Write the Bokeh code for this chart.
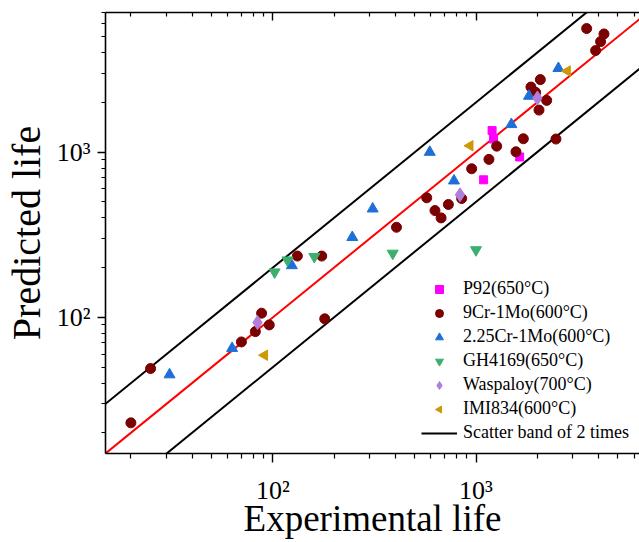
import numpy as np
from bokeh.plotting import figure
from bokeh.models import LogAxis, FixedTicker, Legend, LegendItem, ColumnDataSource
from bokeh.core.properties import value
from bokeh.embed import file_html
from bokeh.resources import INLINE

# axis limits
x_lo, x_hi = 15, 6380
y_lo, y_hi = 15, 7000

# data (experimental life, predicted life)
p92_x = [1200, 1220, 1090, 1640]
p92_y = [1350, 1200, 680, 935]

cr9_x = [20, 25, 70, 82, 88, 96, 132, 174, 180, 406, 572, 628, 673, 731, 850,
         952, 1158, 1264, 1573, 1710, 2475, 1864, 1966, 2073, 2228, 2042,
         3505, 4266, 4105, 3880]
cr9_y = [23, 49, 71, 82, 106, 90, 235, 235, 98, 351, 529, 443, 400, 482, 524,
         793, 904, 1087, 1005, 1205, 1200, 2477, 2300, 2747, 2057, 1797,
         5596, 5190, 4665, 4117]

cr225_x = [31, 63, 124, 246, 310, 592, 779, 1493, 1823, 2544]
cr225_y = [45, 65, 206, 305, 454, 1000, 671, 1472, 2184, 3215]

gh_x = [102, 118, 160, 389, 1000]
gh_y = [188, 222, 233, 244, 256]

wasp_x = [84, 834, 2005]
wasp_y = [93, 552, 2125]

imi_x = [91, 934, 2815]
imi_y = [59, 1093, 3097]

major_ticks = [100, 1000]
minor_ticks = [20, 30, 40, 50, 60, 70, 80, 90,
               200, 300, 400, 500, 600, 700, 800, 900,
               2000, 3000, 4000, 5000, 6000, 7000, 8000, 9000]
tick_labels = {100: "10²", 1000: "10³"}

FONT = "Liberation Serif"

p = figure(x_axis_type="log", y_axis_type="log",
           x_range=(x_lo, x_hi), y_range=(y_lo, y_hi),
           frame_width=534, frame_height=441,
           min_border_left=96, min_border_right=0, min_border_top=12,
           min_border_bottom=0,
           output_backend="svg", toolbar_location=None)
p.outline_line_color = None
p.grid.visible = False
p.background_fill_color = "white"

def style_axis(ax, label_size="26px"):
    ax.ticker = FixedTicker(ticks=major_ticks, minor_ticks=minor_ticks)
    ax.major_label_overrides = tick_labels
    ax.axis_line_color = "black"
    ax.axis_line_width = 1.6
    ax.major_tick_line_color = "black"
    ax.major_tick_line_width = 1.4
    ax.minor_tick_line_color = "black"
    ax.minor_tick_line_width = 1.2
    ax.major_label_text_font = FONT
    ax.major_label_text_font_size = label_size
    ax.major_label_text_color = "black"

xa = p.xaxis[0]
style_axis(xa)
xa.major_tick_out = 9
xa.major_tick_in = 0
xa.minor_tick_out = 5
xa.minor_tick_in = 0
xa.major_label_standoff = 13
xa.axis_label = "Experimental life"
xa.axis_label_text_font = FONT
xa.axis_label_text_font_size = "37px"
xa.axis_label_text_font_style = "normal"
xa.axis_label_text_color = "black"
xa.axis_label_standoff = -10

ya = p.yaxis[0]
style_axis(ya)
ya.major_tick_out = 8
ya.major_tick_in = 0
ya.minor_tick_out = 4
ya.minor_tick_in = 0
ya.major_label_standoff = 7
ya.axis_label = "Predicted life"
ya.axis_label_text_font = FONT
ya.axis_label_text_font_size = "40px"
ya.axis_label_text_font_style = "normal"
ya.axis_label_text_color = "black"
ya.axis_label_standoff = 5

top = LogAxis()
style_axis(top)
top.major_tick_out = 0
top.major_tick_in = 8
top.minor_tick_out = 0
top.minor_tick_in = 4
top.major_label_text_font_size = "0px"
top.major_label_standoff = 0
top.major_label_overrides = {100: "", 1000: ""}
p.add_layout(top, "above")

# lines
lx = np.array([x_lo, x_hi], dtype=float)
r_red = p.line(lx, lx, line_color="red", line_width=2)
r_up = p.line(lx, 2 * lx, line_color="black", line_width=2)
r_dn = p.line(lx, lx / 2, line_color="black", line_width=2)

r_p92 = p.scatter(p92_x, p92_y, marker="square", size=8, color="#FF00FF")
r_cr9 = p.scatter(cr9_x, cr9_y, marker="circle", size=10, color="#7B0000")
r_225 = p.scatter(cr225_x, cr225_y, marker="triangle", size=11, color="#1F6FD8")
r_gh = p.scatter(gh_x, gh_y, marker="inverted_triangle", size=11, color="#3CAE6E")
r_wa = p.scatter(wasp_x, wasp_y, marker="diamond", size=14, color="#B07EDC")

imi_src = ColumnDataSource(dict(x=imi_x, y=imi_y))
r_imi = None
if hasattr(p, "ngon"):
    try:
        r_imi = p.ngon(x="x", y="y", source=imi_src, radius=6, radius_units="screen",
                       n=3, angle=np.pi / 2, fill_color="#CC9A06", line_color="#CC9A06")
    except Exception:
        r_imi = None
if r_imi is None:
    r_imi = p.text(x="x", y="y", source=imi_src, text=value("◀"),
                   text_font=value("DejaVu Sans"), text_font_size="12px",
                   text_align="center", text_baseline="middle",
                   text_color="#CC9A06")

legend = Legend(items=[
    LegendItem(label="P92(650°C)", renderers=[r_p92]),
    LegendItem(label="9Cr-1Mo(600°C)", renderers=[r_cr9]),
    LegendItem(label="2.25Cr-1Mo(600°C)", renderers=[r_225]),
    LegendItem(label="GH4169(650°C)", renderers=[r_gh]),
    LegendItem(label="Waspaloy(700°C)", renderers=[r_wa]),
    LegendItem(label="IMI834(600°C)", renderers=[r_imi]),
    LegendItem(label="Scatter band of 2 times", renderers=[r_up]),
], location=(316, 10))
legend.border_line_color = None
legend.background_fill_alpha = 0
legend.label_text_font = FONT
legend.label_text_font_size = "18px"
legend.label_text_color = "black"
legend.glyph_width = 36
legend.glyph_height = 20
legend.label_height = 20
legend.label_standoff = 6
legend.spacing = 3
legend.padding = 5
legend.margin = 0
p.add_layout(legend)

open("out.html", "w").write(file_html(p, INLINE))
